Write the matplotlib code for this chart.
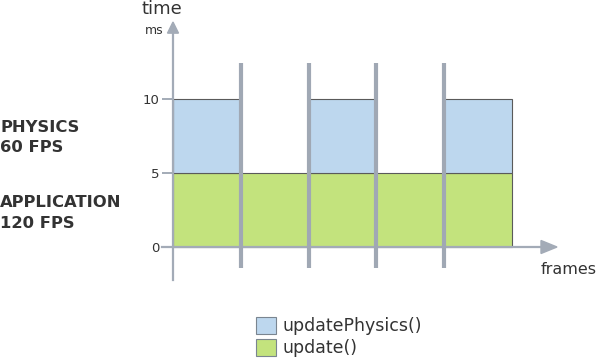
import matplotlib
matplotlib.use("Agg")
import matplotlib.pyplot as plt
from matplotlib.patches import Patch, Polygon

# ---- data ----
frames = [0, 1, 2, 3, 4]
frame_boundaries = [1, 2, 3, 4]
update_ms = [5, 5, 5, 5, 5]
physics_frames = [0, 2, 4]
physics_ms = [5, 5, 5]
yticks = [0, 5, 10]
legend_labels = ["updatePhysics()", "update()"]

BLUE = "#BDD7EE"
GREEN = "#C3E37D"
AXC = "#A3ABB7"
LINEC = "#A0A8B4"
EDGE = "#5a5a5a"
TXT = "#333333"

W, H = 600, 362
fig = plt.figure(figsize=(W / 100, H / 100), dpi=100)
ax = fig.add_axes([0, 0, 1, 1])

# pixel mapping: x0=173px, 67.8px per frame ; y0=247px, 14.8px per ms
px_x, x0px = 67.8, 173
px_y, y0px = 14.8, 247
ax.set_xlim(-x0px / px_x, (W - x0px) / px_x)
ax.set_ylim(-(H - y0px) / px_y, y0px / px_y)

# green: one continuous bar
ax.bar(frames[0], sum(update_ms) / len(update_ms), width=len(frames), align="edge",
       color=GREEN, edgecolor=EDGE, linewidth=0.8, zorder=2)
ax.bar(physics_frames, physics_ms, bottom=5, width=1, align="edge",
       color=BLUE, edgecolor=EDGE, linewidth=0.8, zorder=2)

ax.vlines(frame_boundaries, -1.4, 12.45, color=LINEC, linewidth=3.0, zorder=4)

# axes
for s in ["top", "right"]:
    ax.spines[s].set_visible(False)
ax.spines["left"].set_position(("data", 0))
ax.spines["bottom"].set_position(("data", 0))
ax.spines["left"].set_bounds(-2.23, 14.6)
ax.spines["bottom"].set_bounds(-0.16, 5.5)
for s in ["left", "bottom"]:
    ax.spines[s].set_color(AXC)
    ax.spines[s].set_linewidth(1.6)
    ax.spines[s].set_zorder(3)

ax.set_xticks([])
ax.set_yticks(yticks)
ax.set_yticklabels([str(v) for v in yticks])
ax.tick_params(axis="y", length=8, width=1.4, color=AXC, labelcolor=TXT,
               labelsize=9.5, pad=2)

# arrow heads
hw_x = 5.5 / px_x
hw_y = 6.5 / px_y
ax.add_patch(Polygon([(0, 15.2), (-hw_x, 14.45), (hw_x, 14.45)], closed=True,
                     color=AXC, zorder=3, clip_on=False))
ax.add_patch(Polygon([((557 - x0px) / px_x, 0), ((541 - x0px) / px_x, hw_y),
                      ((541 - x0px) / px_x, -hw_y)], closed=True,
                     color=AXC, zorder=3, clip_on=False))

# texts
def fx(p):
    return p / W
def fy(p):
    return 1 - p / H

fig.text(fx(162), fy(9), "time", fontsize=13, color=TXT, ha="center", va="center")
fig.text(fx(154), fy(30), "ms", fontsize=9, color=TXT, ha="center", va="center")
fig.text(fx(569), fy(269), "frames", fontsize=11.5, color=TXT, ha="center", va="center")

bold = dict(fontsize=11.8, fontweight="bold", color=TXT, va="center")
fig.text(fx(0), fy(127), "PHYSICS", **bold)
fig.text(fx(0), fy(147), "60 FPS", **bold)
fig.text(fx(0), fy(203), "APPLICATION", **bold)
fig.text(fx(0), fy(224), "120 FPS", **bold)

handles = [Patch(facecolor=BLUE, edgecolor="#7a8590", linewidth=0.8),
           Patch(facecolor=GREEN, edgecolor="#7a8590", linewidth=0.8)]
leg = fig.legend(handles, legend_labels, loc="upper left",
                 bbox_to_anchor=(fx(253), fy(314)), frameon=False,
                 fontsize=12.5, handlelength=1.15, handleheight=1.15,
                 handletextpad=0.4, labelspacing=0.2, borderpad=0.15,
                 borderaxespad=0)
for t in leg.get_texts():
    t.set_color(TXT)

fig.savefig("out.png", dpi=100)
